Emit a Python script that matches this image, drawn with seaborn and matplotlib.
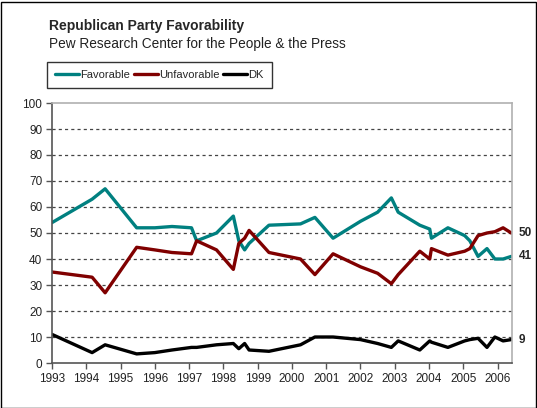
import matplotlib
matplotlib.use("Agg")
import matplotlib.pyplot as plt
import seaborn as sns
import pandas as pd
from matplotlib.patches import Rectangle
from matplotlib.lines import Line2D

# ---- data ----
dates = [1993.0, 1994.17, 1994.55, 1995.47, 1996.0, 1996.5, 1997.07, 1997.22,
         1997.8, 1998.29, 1998.45, 1998.62, 1998.75, 1999.33, 2000.25, 2000.67,
         2001.2, 2002.0, 2002.5, 2002.9, 2003.1, 2003.73, 2004.02, 2004.07,
         2004.55, 2005.04, 2005.19, 2005.43, 2005.69, 2005.92, 2006.16, 2006.4]
favorable = [54, 63, 67, 52, 52, 52.5, 52, 47,
             50, 56.5, 47, 43.5, 46, 53, 53.5, 56,
             48, 54.5, 58, 63.5, 58, 53, 51.5, 48,
             52, 49, 47, 41, 44, 40, 40, 41]
unfavorable = [35, 33, 27, 44.5, 43.5, 42.5, 42, 47,
               43.5, 36, 46, 48, 51, 42.5, 40, 34,
               42, 37, 34.5, 30.5, 34, 43, 40, 44,
               41.5, 43, 44, 49, 50, 50.5, 52, 50]
dk = [11, 4, 7, 3.5, 4, 5, 6, 6,
      7, 7.5, 5.5, 7.5, 5, 4.5, 7, 10,
      10, 9, 7.5, 6, 8.5, 5, 8.5, 8,
      6, 8.5, 9, 9.5, 6, 10, 8.5, 9]
series_names = ["Favorable", "Unfavorable", "DK"]
series_colors = ["#008080", "#800000", "#000000"]
end_labels = ["41", "50", "9"]
year_ticks = list(range(1993, 2007))
y_ticks = list(range(0, 101, 10))

df = pd.concat([
    pd.DataFrame({"date": dates, "value": vals, "series": name})
    for name, vals in zip(series_names, [favorable, unfavorable, dk])
], ignore_index=True)

sns.set_theme(style="white")
plt.rcParams["font.family"] = ["Liberation Sans", "DejaVu Sans"]

W, H = 537, 408
fig = plt.figure(figsize=(W / 100, H / 100), dpi=100)
ax = fig.add_axes([52 / W, 1 - 363 / H, (512 - 52) / W, (363 - 103) / H])

sns.lineplot(data=df, x="date", y="value", hue="series", hue_order=series_names,
             palette=series_colors, linewidth=2.4, ax=ax, legend=False, sort=False)

ax.set_xlim(1993, 2006.42)
ax.set_ylim(0, 100)
ax.set_xticks(year_ticks)
ax.set_xticklabels([str(y) for y in year_ticks], fontsize=8.5, color="#222222")
ax.set_yticks(y_ticks)
ax.set_yticklabels([str(v) for v in y_ticks], fontsize=8.5, color="#222222")
ax.set_xlabel("")
ax.set_ylabel("")
for v in y_ticks[1:-1]:
    ax.axhline(v, color="#444444", linestyle=(0, (2.5, 2.5)), linewidth=0.9, zorder=0)
ax.tick_params(axis="both", direction="out", length=4, width=1, color="#555555",
               left=True, bottom=True, pad=3)
for side in ["left", "bottom"]:
    ax.spines[side].set_color("#555555")
    ax.spines[side].set_linewidth(1.2)
for side in ["top", "right"]:
    ax.spines[side].set_color("#b0b0b0")
    ax.spines[side].set_linewidth(1.2)

# end labels
last_vals = [favorable[-1], unfavorable[-1], dk[-1]]
for val, lab in zip(last_vals, end_labels):
    ax.annotate(lab, xy=(1, val), xycoords=("axes fraction", "data"),
                xytext=(5, 0), textcoords="offset points", va="center",
                ha="left", fontsize=8.5, fontweight="bold")

# title and subtitle
fig.text(49 / W, 1 - 26 / H, "Republican Party Favorability", fontsize=10,
         fontweight="bold", va="center", ha="left")
fig.text(49 / W, 1 - 44 / H, "Pew Research Center for the People & the Press",
         fontsize=9.8, va="center", ha="left", color="#222222")

# legend
handles = [Line2D([0], [0], color=c, lw=2.4) for c in series_colors]
leg = fig.legend(handles, series_names, loc="center left",
                 bbox_to_anchor=(47 / W, 1 - 75 / H), ncol=3, fontsize=8,
                 frameon=True, fancybox=False, edgecolor="#000000",
                 handlelength=2.2, handletextpad=0.1, columnspacing=0.3,
                 borderpad=0.7, borderaxespad=0)
leg.get_frame().set_linewidth(1.0)

# figure border
fig.patches.append(Rectangle((0.5 / W, 0.5 / H), 1 - 2 / W, 1 - 2 / H,
                             transform=fig.transFigure, fill=False,
                             edgecolor="#000000", linewidth=1.0))

fig.savefig("out.png", dpi=100)
